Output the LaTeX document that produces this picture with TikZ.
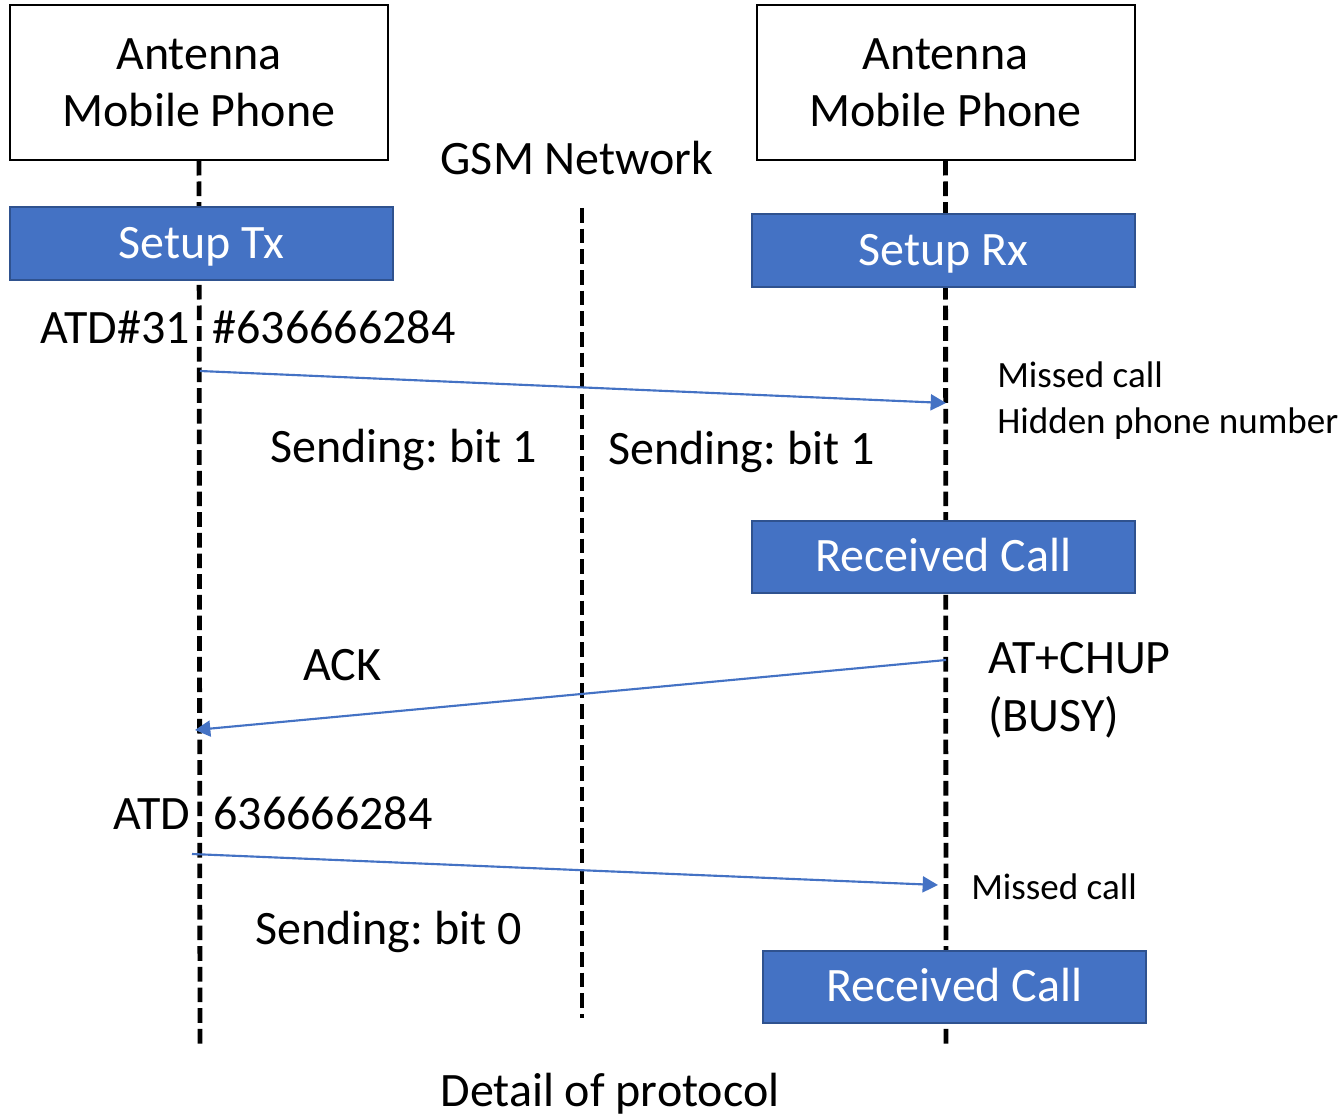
\documentclass[tikz,border=0pt]{standalone}
\usepackage{fontspec}
\setmainfont{Carlito}
\frenchspacing
\usetikzlibrary{arrows.meta,calc}
\definecolor{StepClr}{RGB}{68,114,196}
\definecolor{StepLine}{RGB}{47,82,143}
\definecolor{MsgClr}{RGB}{68,114,196}

\tikzset{
  phone/.style={draw=black,line width=1.5pt,fill=white,minimum width=283.5pt,minimum height=116pt,
    inner sep=0pt,align=center,font=\fontsize{36}{43}\selectfont},
  stepbox/.style={draw=StepLine,line width=1.5pt,fill=StepClr,text=white,minimum width=287pt,
    minimum height=54.5pt,inner sep=0pt,text height=22pt,text depth=0pt,font=\fontsize{36}{43}\selectfont},
  bigtxt/.style={inner sep=0pt,font=\fontsize{36}{43}\selectfont},
  smalltxt/.style={inner sep=0pt,font=\fontsize{27.8}{34}\selectfont},
  life/.style={line width=3.6pt,dash pattern=on 11pt off 4.5pt},
  msg/.style={draw=MsgClr,line width=1.6pt,-{Triangle[length=11.5pt,width=12pt]}}
}

\begin{document}
\begin{tikzpicture}[x=0.75pt,y=-0.75pt]
\useasboundingbox (0,0) rectangle (1344,1116);

\node[phone] (phoneL) at (199,82.5) {Antenna\\Mobile Phone};
\node[phone] (phoneR) at (945.5,82.5) {Antenna\\Mobile Phone};
\node[bigtxt,anchor=base] (gsm) at (577,175) {GSM Network};

\coordinate (endL) at (200,1045);
\coordinate (endR) at (946,1045);
\coordinate (topM) at (582,208);
\coordinate (endM) at (582,1018);

\draw[life] (phoneL.south) -- (endL);
\draw[life] (phoneR.south) -- (endR);
\draw[life] (topM) -- (endM);

\node[stepbox] (setupTx) at (201.5,243.5) {Setup Tx};
\node[stepbox] (setupRx) at (943.5,250.5) {Setup Rx};
\node[stepbox] (recvA) at (943.5,557) {Received Call};
\node[stepbox] (recvB) at (954.5,987) {Received Call};

\node[bigtxt,anchor=base west] (atdA) at (40,343) {ATD\#31\hspace{17pt}\#636666284};
\node[bigtxt,anchor=base west] (bitA) at (270,462) {Sending: bit 1};
\node[bigtxt,anchor=base west] (bitB) at (608,464) {Sending: bit 1};
\node[smalltxt,anchor=base west,align=left] (missA) at (997,433) {Missed call\\Hidden phone number};
\node[bigtxt,anchor=base west] (ack) at (303,680) {ACK};
\node[bigtxt,anchor=base west,align=left] (chup) at (988,731) {AT+CHUP\\(BUSY)};
\node[bigtxt,anchor=base west] (atdB) at (113,829) {ATD\hspace{17.5pt}636666284};
\node[smalltxt,anchor=base west] (missB) at (971,899) {Missed call};
\node[bigtxt,anchor=base west] (bitC) at (255,944) {Sending: bit 0};
\node[bigtxt,anchor=base] (title) at (610,1106) {Detail of protocol};

\coordinate (sendA) at (200,371);
\coordinate (getA) at (946,403);
\coordinate (sendB) at (946,660);
\coordinate (getB) at (195,730);
\coordinate (sendC) at (192,854);
\coordinate (getC) at (938,885);

\draw[msg] (sendA) -- (getA);
\draw[msg] (sendB) -- (getB);
\draw[msg] (sendC) -- (getC);

\end{tikzpicture}
\end{document}
